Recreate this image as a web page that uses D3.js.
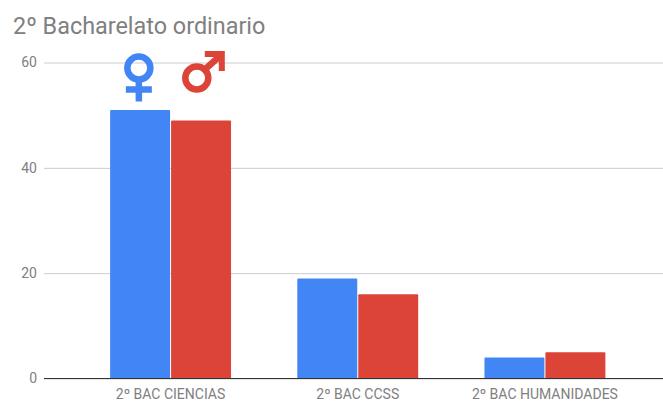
<!DOCTYPE html>
<html><head><meta charset="utf-8">
<style>html,body{margin:0;padding:0;background:#fff}svg{display:block}text{font-family:Roboto,sans-serif}</style>
<script src="https://cdn.jsdelivr.net/npm/d3@7"></script></head><body>
<script>
const categories = ["2º BAC CIENCIAS","2º BAC CCSS","2º BAC HUMANIDADES"];
const seriesNames = ["Mujeres","Hombres"];
const mujeres = [51,19,4];
const hombres = [49,16,5];
const yTicks = [0,20,40,60];
const colors = ["#4285F4","#DB4437"];
const W=663,H=401;
const svg=d3.select("body").append("svg").attr("width",W).attr("height",H);
const y=d3.scaleLinear().domain([0,60]).range([378.5,62.5]);
const x=d3.scaleBand().domain(categories).range([77,638.5]).paddingInner(0.354).paddingOuter(0.177);
const xs=d3.scaleBand().domain(seriesNames).range([0,x.bandwidth()]);
svg.append("text").attr("x",13).attr("y",34).attr("font-size",23.4).attr("fill","#808080").text("2º Bacharelato ordinario");
const gy=svg.append("g").attr("transform","translate(44,0)").call(d3.axisLeft(y).tickValues(yTicks).tickSize(-(W-44)).tickPadding(7));
gy.select(".domain").remove();
gy.selectAll(".tick line").attr("stroke","#cccccc");
gy.selectAll(".tick text").attr("fill","#808080").attr("font-size",14).attr("font-family","Roboto");
const groups=svg.selectAll("g.cat").data(categories).join("g").attr("class","cat").attr("transform",d=>`translate(${x(d)},0)`);
[mujeres,hombres].forEach((vals,s)=>{
  groups.append("rect").attr("x",xs(seriesNames[s])+(s?0.5:0)).attr("width",xs.bandwidth()-0.5)
    .attr("y",(d,i)=>y(vals[i])).attr("height",(d,i)=>y(0)-y(vals[i])).attr("rx",1).attr("fill",colors[s]);
});
svg.append("line").attr("x1",44).attr("x2",W).attr("y1",y(0)).attr("y2",y(0)).attr("stroke","#333").attr("stroke-width",1.2);
const gx=svg.append("g").attr("transform",`translate(0,${y(0)})`).call(d3.axisBottom(x).tickSize(0).tickPadding(10.5));
gx.select(".domain").remove();
gx.selectAll("text").attr("fill","#808080").attr("font-size",14).attr("font-family","Roboto");
// Gender symbols, anchored on the first category's bars
const cat0=categories[0];
const fx=x(cat0)+xs(seriesNames[0])+xs.bandwidth()/2-1.5, mx=x(cat0)+xs(seriesNames[1])+xs.bandwidth()/2-4;
const f=svg.append("g").attr("transform",`translate(${fx},68)`).attr("fill","none").attr("stroke",colors[0]).attr("stroke-width",6.5);
f.append("circle").attr("r",11.5);
f.append("path").attr("d","M0 12V33.5M-13 21.5H13");
const m=svg.append("g").attr("transform",`translate(${mx},78)`).attr("fill","none").attr("stroke",colors[1]);
m.append("circle").attr("r",11.5).attr("stroke-width",6.5);
m.append("path").attr("d","M8 -8.5L22 -21").attr("stroke-width",6.5);
m.append("path").attr("d","M8 -27H28V-7L22 -7V-21H8Z").attr("fill",colors[1]).attr("stroke","none");
</script></body></html>
